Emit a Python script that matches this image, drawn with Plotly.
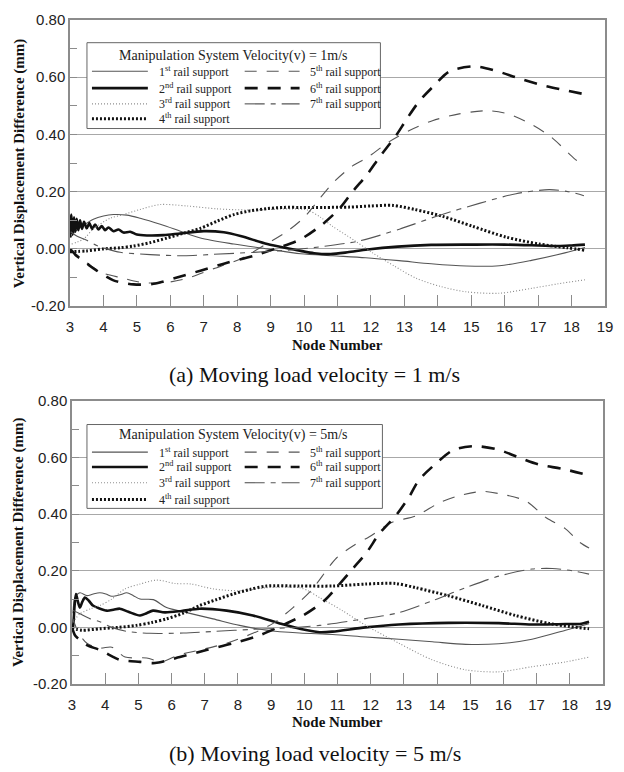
import plotly.graph_objects as go

# ---------------- data: (a) v = 1 m/s ----------------
a_x1 = [3.02, 3.15, 3.3, 3.5, 3.7, 4.0, 4.3, 4.7, 5.1, 5.7, 6.3, 6.9, 7.9, 8.9, 9.9, 10.85, 11.84, 12.84, 13.8, 14.85, 15.84, 16.8, 17.8, 18.4]
a_y1 = [0.04, 0.06, 0.075, 0.09, 0.104, 0.115, 0.12, 0.118, 0.107, 0.086, 0.062, 0.038, 0.017, 0.0, -0.017, -0.024, -0.031, -0.041, -0.052, -0.06, -0.059, -0.04, -0.014, 0.005]

a_x2 = [3.0, 3.04, 3.08, 3.12, 3.16, 3.2, 3.25, 3.3, 3.36, 3.42, 3.5, 3.58, 3.66, 3.75, 3.85, 3.95, 4.05, 4.15, 4.3, 4.45, 4.6, 4.8, 5.0, 5.3, 5.8, 6.3, 7.0, 7.6, 8.1, 8.9, 9.5, 9.9, 10.3, 10.8, 11.3, 11.9, 12.8, 13.8, 15.0, 16.0, 17.0, 17.6, 18.0, 18.4]
a_y2 = [0.04, 0.12, 0.05, 0.11, 0.06, 0.105, 0.065, 0.1, 0.07, 0.095, 0.072, 0.09, 0.07, 0.085, 0.068, 0.08, 0.065, 0.075, 0.062, 0.068, 0.057, 0.06, 0.05, 0.047, 0.048, 0.054, 0.062, 0.058, 0.045, 0.017, 0.002, -0.007, -0.015, -0.018, -0.012, -0.002, 0.008, 0.014, 0.015, 0.015, 0.012, 0.01, 0.012, 0.015]

a_x3 = [3.05, 3.4, 3.7, 4.2, 4.6, 5.1, 5.7, 6.5, 7.4, 8.3, 9.0, 9.6, 10.1, 10.5, 10.85, 11.5, 12.05, 12.7, 13.36, 14.1, 14.85, 15.84, 16.8, 17.6, 18.4]
a_y3 = [0.017, 0.034, 0.07, 0.107, 0.12, 0.138, 0.155, 0.15, 0.14, 0.136, 0.138, 0.14, 0.136, 0.11, 0.079, 0.03, -0.014, -0.06, -0.103, -0.132, -0.15, -0.155, -0.138, -0.122, -0.108]

a_x4 = [3.0, 3.5, 4.0, 4.5, 4.9, 5.4, 5.9, 6.4, 6.9, 7.4, 7.9, 8.4, 8.9, 9.4, 9.9, 10.6, 11.36, 12.0, 12.66, 13.3, 14.14, 15.04, 16.05, 17.03, 17.87, 18.4]
a_y4 = [-0.01, -0.007, 0.0, 0.004, 0.01, 0.022, 0.038, 0.055, 0.072, 0.097, 0.12, 0.133, 0.141, 0.145, 0.145, 0.145, 0.146, 0.15, 0.152, 0.138, 0.114, 0.079, 0.041, 0.017, 0.004, -0.005]

a_x5 = [3.0, 3.3, 3.7, 4.0, 4.5, 5.2, 5.9, 6.5, 7.3, 8.1, 8.77, 9.5, 10.0, 10.46, 10.9, 11.45, 11.9, 12.55, 13.15, 13.84, 14.64, 15.5, 16.1, 16.8, 17.4, 18.1, 18.4]
a_y5 = [0.0, -0.03, -0.065, -0.085, -0.1, -0.118, -0.117, -0.103, -0.069, -0.035, 0.01, 0.062, 0.11, 0.175, 0.235, 0.29, 0.32, 0.375, 0.414, 0.448, 0.472, 0.483, 0.472, 0.435, 0.39, 0.314, 0.29]

a_x6 = [3.0, 3.06, 3.2, 3.4, 3.6, 3.8, 4.3, 4.9, 5.5, 6.2, 6.9, 7.7, 8.5, 9.2, 9.9, 10.55, 11.06, 11.45, 11.9, 12.25, 12.75, 13.06, 13.45, 13.9, 14.34, 15.1, 15.8, 16.4, 17.1, 17.8, 18.37]
a_y6 = [0.0, -0.007, -0.025, -0.04, -0.06, -0.076, -0.11, -0.124, -0.122, -0.10, -0.076, -0.048, -0.024, 0.003, 0.034, 0.086, 0.141, 0.2, 0.262, 0.32, 0.396, 0.452, 0.517, 0.572, 0.62, 0.638, 0.62, 0.597, 0.573, 0.555, 0.541]

a_x7 = [3.02, 3.2, 3.5, 3.8, 4.1, 4.5, 5.4, 6.4, 7.3, 8.5, 9.66, 10.46, 11.66, 12.85, 14.04, 15.24, 16.34, 17.33, 17.9, 18.37]
a_y7 = [0.06, 0.045, 0.03, 0.012, 0.0, -0.012, -0.02, -0.024, -0.019, -0.012, -0.003, 0.007, 0.028, 0.069, 0.117, 0.159, 0.193, 0.207, 0.2, 0.186]

# ---------------- data: (b) v = 5 m/s ----------------
b_x1 = [3.03, 3.09, 3.24, 3.45, 3.64, 3.84, 4.02, 4.2, 4.45, 4.65, 4.85, 5.05, 5.45, 5.85, 6.46, 7.25, 8.05, 8.86, 9.86, 10.85, 11.85, 12.85, 13.86, 14.86, 15.86, 16.86, 17.87, 18.58]
b_y1 = [0.05, 0.105, 0.122, 0.112, 0.118, 0.122, 0.118, 0.11, 0.115, 0.122, 0.112, 0.1, 0.098, 0.07, 0.052, 0.03, 0.007, -0.01, -0.02, -0.025, -0.034, -0.042, -0.051, -0.06, -0.058, -0.042, -0.01, 0.013]

b_x2 = [3.0, 3.03, 3.08, 3.12, 3.18, 3.24, 3.31, 3.39, 3.5, 3.63, 3.8, 4.05, 4.25, 4.44, 4.7, 5.05, 5.25, 5.44, 5.8, 6.3, 6.85, 7.66, 8.45, 9.26, 9.86, 10.46, 10.85, 11.85, 12.85, 14.35, 15.86, 16.86, 17.87, 18.3, 18.58]
b_y2 = [-0.01, 0.0, 0.08, 0.118, 0.09, 0.07, 0.09, 0.105, 0.095, 0.077, 0.068, 0.059, 0.062, 0.066, 0.055, 0.042, 0.05, 0.059, 0.053, 0.058, 0.066, 0.059, 0.042, 0.014, -0.005, -0.017, -0.015, 0.0, 0.01, 0.016, 0.015, 0.01, 0.012, 0.012, 0.02]

b_x3 = [3.03, 3.24, 3.57, 3.84, 4.2, 4.6, 5.05, 5.56, 6.1, 6.6, 7.25, 8.05, 8.86, 9.5, 9.86, 10.1, 10.46, 11.15, 11.85, 12.85, 13.86, 14.86, 15.86, 16.86, 17.87, 18.58]
b_y3 = [0.018, 0.048, 0.066, 0.077, 0.1, 0.136, 0.153, 0.167, 0.155, 0.153, 0.136, 0.129, 0.14, 0.142, 0.14, 0.13, 0.105, 0.059, 0.007, -0.056, -0.115, -0.15, -0.157, -0.139, -0.122, -0.105]

b_x4 = [3.0, 3.3, 3.84, 4.4, 4.94, 5.4, 5.85, 6.35, 6.85, 7.35, 7.86, 8.36, 8.86, 9.86, 10.85, 11.85, 12.75, 13.36, 14.36, 15.36, 16.36, 17.37, 18.0, 18.58]
b_y4 = [-0.003, -0.01, -0.005, 0.0, 0.007, 0.017, 0.03, 0.05, 0.077, 0.098, 0.118, 0.134, 0.146, 0.146, 0.146, 0.153, 0.155, 0.14, 0.111, 0.077, 0.042, 0.014, 0.003, -0.005]

b_x5 = [3.03, 3.2, 3.45, 3.84, 4.2, 4.6, 5.25, 5.7, 6.2, 6.85, 7.66, 8.45, 9.06, 9.66, 10.2, 10.97, 11.5, 11.96, 12.65, 13.37, 14.07, 14.6, 15.36, 16.08, 16.68, 17.29, 17.87, 18.3, 18.58]
b_y5 = [0.03, -0.02, -0.056, -0.073, -0.07, -0.105, -0.108, -0.122, -0.098, -0.08, -0.056, -0.021, 0.014, 0.07, 0.129, 0.245, 0.29, 0.32, 0.371, 0.394, 0.44, 0.463, 0.48, 0.467, 0.446, 0.387, 0.348, 0.30, 0.28]

b_x6 = [3.0, 3.1, 3.24, 3.45, 3.84, 4.25, 4.44, 5.05, 5.5, 6.25, 7.05, 7.86, 8.65, 9.46, 9.96, 10.6, 11.06, 11.45, 11.9, 12.26, 12.76, 13.17, 13.45, 13.98, 14.5, 15.13, 15.86, 16.46, 17.07, 17.77, 18.47]
b_y6 = [0.0, -0.03, -0.045, -0.063, -0.08, -0.105, -0.115, -0.122, -0.126, -0.105, -0.08, -0.056, -0.028, 0.014, 0.042, 0.094, 0.153, 0.206, 0.268, 0.331, 0.395, 0.463, 0.52, 0.58, 0.627, 0.64, 0.627, 0.6, 0.575, 0.56, 0.54]

b_x7 = [3.03, 3.24, 3.55, 3.84, 4.2, 4.65, 5.35, 6.35, 7.35, 8.45, 9.46, 10.46, 11.85, 12.85, 13.86, 14.86, 15.86, 16.86, 17.47, 18.07, 18.58]
b_y7 = [0.06, 0.048, 0.03, 0.02, 0.0, -0.014, -0.021, -0.02, -0.014, -0.007, -0.002, 0.007, 0.031, 0.052, 0.094, 0.14, 0.181, 0.206, 0.208, 0.2, 0.188]

series_names = ["1<sup>st</sup> rail support", "2<sup>nd</sup> rail support", "3<sup>rd</sup> rail support",
                "4<sup>th</sup> rail support", "5<sup>th</sup> rail support", "6<sup>th</sup> rail support",
                "7<sup>th</sup> rail support"]
x_ticks = list(range(3, 20))
y_ticks = [-0.2, 0.0, 0.2, 0.4, 0.6, 0.8]
y_tick_text = ["-0.20", "0.00", "0.20", "0.40", "0.60", "0.80"]
legend_titles = ["Manipulation System Velocity(v) = 1m/s", "Manipulation System Velocity(v) = 5m/s"]
captions = ["(a) Moving load velocity = 1 m/s", "(b) Moving load velocity = 5 m/s"]

# ---------------- styles ----------------
styles = [
    dict(color="#555555", width=1.1, dash="solid"),
    dict(color="#111111", width=2.6, dash="solid"),
    dict(color="#8a8a8a", width=1.1, dash="1px,2px"),
    dict(color="#111111", width=3.0, dash="2px,2px"),
    dict(color="#555555", width=1.1, dash="12px,10px"),
    dict(color="#111111", width=2.6, dash="13px,10px"),
    dict(color="#555555", width=1.1, dash="20px,6px,5px,6px"),
]

W, H = 624, 772
ML, MR, MT, MB = 70, 18, 11, 88
PW, PH = W - ML - MR, H - MT - MB


def fx(px):
    return (px - ML) / PW


def fy(py):
    return (H - MB - py) / PH


fig = go.Figure()
data_a = [(a_x1, a_y1), (a_x2, a_y2), (a_x3, a_y3), (a_x4, a_y4), (a_x5, a_y5), (a_x6, a_y6), (a_x7, a_y7)]
data_b = [(b_x1, b_y1), (b_x2, b_y2), (b_x3, b_y3), (b_x4, b_y4), (b_x5, b_y5), (b_x6, b_y6), (b_x7, b_y7)]
for (xs, ys), st, nm in zip(data_a, styles, series_names):
    fig.add_trace(go.Scatter(x=xs, y=ys, mode="lines", name=nm, line=dict(shape="spline", smoothing=0.8, **st),
                             xaxis="x", yaxis="y", showlegend=False, hoverinfo="skip"))
for (xs, ys), st, nm in zip(data_b, styles, series_names):
    fig.add_trace(go.Scatter(x=xs, y=ys, mode="lines", name=nm, line=dict(shape="spline", smoothing=0.8, **st),
                             xaxis="x2", yaxis="y2", showlegend=False, hoverinfo="skip"))

tickfont = dict(family="Liberation Sans", size=15, color="#222222")
axcol = "#8c8c8c"


def xax(domain, anchor):
    return dict(domain=domain, anchor=anchor, range=[3, 19], tickmode="array", tickvals=x_ticks,
                ticks="inside", ticklen=11, tickcolor=axcol, tickwidth=1.2, showgrid=False, zeroline=False,
                showline=True, linecolor=axcol, linewidth=1.5, mirror=True, tickfont=tickfont,
                ticklabelstandoff=6, ticklabeloverflow="allow")


def yax(domain, anchor):
    return dict(domain=domain, anchor=anchor, range=[-0.2, 0.8], tickmode="array", tickvals=y_ticks,
                ticktext=y_tick_text, ticks="inside", ticklen=7, tickcolor=axcol, showgrid=True,
                gridcolor="#a8a8a8", gridwidth=1, zeroline=False, showline=True, linecolor=axcol,
                linewidth=1.5, mirror=True, tickfont=tickfont, ticklabeloverflow="allow",
                minor=dict(tickvals=[-0.1, 0.1, 0.3, 0.5, 0.7], ticks="inside", ticklen=7, tickcolor=axcol,
                           showgrid=False))


fig.update_layout(
    width=W, height=H, margin=dict(l=ML, r=MR, t=MT, b=MB),
    paper_bgcolor="white", plot_bgcolor="white", showlegend=False,
    xaxis=xax([0, 1], "y"), yaxis=yax([fy(301), 1], "x"),
    xaxis2=xax([fx(72), fx(604)], "y2"), yaxis2=yax([0, fy(397)], "x2"),
)

serif = "Liberation Serif"
shapes, annots = [], []
panels = [
    dict(box=(87, 34, 381, 121), title_y=47, rows=[63, 80, 96, 111], yc=156, nn=340, cap=370),
    dict(box=(87, 421, 383, 506), title_y=432, rows=[449, 464, 480, 497], yc=540, nn=723, cap=754),
]
for p, ttl, cap in zip(panels, legend_titles, captions):
    x0, y0, x1, y1 = p["box"]
    shapes.append(dict(type="rect", xref="paper", yref="paper", x0=fx(x0), x1=fx(x1), y0=fy(y1), y1=fy(y0),
                       line=dict(color="#666666", width=1), fillcolor="white", layer="above"))
    annots.append(dict(text=ttl, x=fx(234), y=fy(p["title_y"]), xref="paper", yref="paper", showarrow=False,
                       xanchor="center", yanchor="middle", font=dict(family=serif, size=14, color="#222222")))
    for i, (nm, st) in enumerate(zip(series_names, styles)):
        col = 0 if i < 4 else 1
        row = i if i < 4 else i - 4
        ly = p["rows"][row]
        lx0, lx1, tx = (92, 148, 157) if col == 0 else (245, 300, 308)
        shapes.append(dict(type="line", xref="paper", yref="paper", x0=fx(lx0), x1=fx(lx1), y0=fy(ly), y1=fy(ly),
                           line=dict(color=st["color"], width=st["width"], dash=st["dash"]), layer="above"))
        annots.append(dict(text=nm, x=fx(tx), y=fy(ly), xref="paper", yref="paper", showarrow=False,
                           xanchor="left", yanchor="middle", font=dict(family=serif, size=12, color="#222222")))
    annots.append(dict(text="<b>Vertical Displacement Difference (mm)</b>", x=fx(19), y=fy(p["yc"]),
                       xref="paper", yref="paper", showarrow=False, textangle=-90, xanchor="center",
                       yanchor="middle", font=dict(family=serif, size=15, color="#111111")))
    annots.append(dict(text="<b>Node Number</b>", x=fx(338), y=fy(p["nn"]), xref="paper", yref="paper",
                       showarrow=False, xanchor="center", yanchor="middle",
                       font=dict(family=serif, size=15, color="#111111")))
    annots.append(dict(text=cap, x=fx(315), y=fy(p["cap"]), xref="paper", yref="paper", showarrow=False,
                       xanchor="center", yanchor="middle", font=dict(family=serif, size=22, color="#111111")))

fig.update_layout(shapes=shapes, annotations=annots)
fig.write_html("out.html", config={"displayModeBar": False},
               post_script="document.body.style.margin='0';document.body.style.overflow='hidden';")
